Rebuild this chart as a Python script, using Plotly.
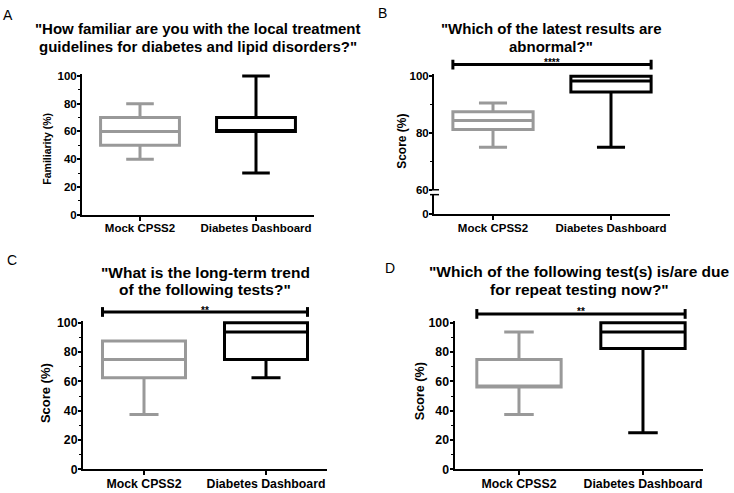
import plotly.graph_objects as go

W, H = 734, 493
def px(x): return x / W
def py(y): return 1 - y / H

categories = ["Mock CPSS2", "Diabetes Dashboard"]
colors = ["#999999", "#000000"]

# Panel A - familiarity (%)
a_lower = [40, 30]
a_q1 = [50, 60]
a_med = [60, 60]
a_q3 = [70, 70]
a_upper = [80, 100]

# Panel B - abnormal results score (%)
b_lower = [75, 75]
b_q1 = [81.25, 94.5]
b_med = [84.4, 98.4]
b_q3 = [87.5, 100]
b_upper = [90.6, 100]

# Panel C - long-term trend score (%)
c_lower = [37.5, 62.5]
c_q1 = [62.5, 75]
c_med = [75, 93.75]
c_q3 = [87.5, 100]
c_upper = [87.5, 100]

# Panel D - repeat testing score (%)
d_lower = [37.5, 25]
d_q1 = [56.25, 82.5]
d_med = [56.25, 93.75]
d_q3 = [75, 100]
d_upper = [93.75, 100]

FONT = "Liberation Sans, Arial, sans-serif"

fig = go.Figure()

def add_boxes(lo, q1, med, q3, up, xa, ya):
    for i, cat in enumerate(categories):
        fig.add_trace(go.Box(
            x=[cat], q1=[q1[i]], median=[med[i]], q3=[q3[i]],
            lowerfence=[lo[i]], upperfence=[up[i]],
            boxpoints=False, fillcolor="white",
            line=dict(color=colors[i], width=3),
            whiskerwidth=0.35, width=0.68,
            showlegend=False, hoverinfo="skip",
            xaxis=xa, yaxis=ya))

add_boxes(a_lower, a_q1, a_med, a_q3, a_upper, "x", "y")
add_boxes(b_lower, b_q1, b_med, b_q3, b_upper, "x3", "y2")
add_boxes(c_lower, c_q1, c_med, c_q3, c_upper, "x4", "y4")
add_boxes(d_lower, d_q1, d_med, d_q3, d_upper, "x5", "y5")
# empty carrier so the lower (0) segment of panel B's broken axis is drawn
fig.add_trace(go.Scatter(x=categories, y=[None, None], mode="lines",
                         showlegend=False, hoverinfo="skip",
                         xaxis="x3", yaxis="y3"))

def xax(dom, rng, anchor, fs):
    return dict(domain=[px(dom[0]), px(dom[1])], range=rng, anchor=anchor,
                type="category", showline=True, linecolor="black", linewidth=2,
                ticks="outside", ticklen=4, tickwidth=1.5, tickcolor="black",
                showgrid=False, zeroline=False, ticklabelstandoff=-2,
                tickfont=dict(family=FONT, size=fs, color="black", weight="bold"))

def yax(dom, rng, anchor, fs, dtick=20, minor=True, tickvals=None):
    d = dict(domain=[py(dom[0]), py(dom[1])], range=rng, anchor=anchor,
             showline=True, linecolor="black", linewidth=2,
             ticks="outside", ticklen=3, tickwidth=1.5, tickcolor="black",
             showgrid=False, zeroline=False, dtick=dtick, tick0=0,
             ticklabelstandoff=-2,
             tickfont=dict(family=FONT, size=fs, color="black", weight="bold"))
    if minor:
        d["minor"] = dict(ticks="outside", dtick=10, ticklen=2, tickwidth=1,
                          tickcolor="black", showgrid=False)
    if tickvals is not None:
        d["tickvals"] = tickvals
    return d

fig.update_layout(
    width=W, height=H, margin=dict(l=0, r=0, t=0, b=0),
    paper_bgcolor="white", plot_bgcolor="white", boxmode="overlay",
    xaxis=xax([82, 314], [-0.5, 1.5], "y", 11.5),
    yaxis=yax([215.5, 71.5], [0, 101.5], "x", 11.5),
    xaxis2=dict(visible=False, domain=[px(434), px(670)], anchor="y2"),
    yaxis2=yax([190, 71.7], [60, 100.8], "x3", 11.5),
    xaxis3=xax([434, 670], [-0.5, 1.5], "y3", 11.5),
    yaxis3=yax([215, 195], [0, 10], "x3", 11.5, minor=False, tickvals=[0]),
    xaxis4=xax([83, 327], [-0.5, 1.5], "y4", 12.3),
    yaxis4=yax([476, 323.75], [0, 101.5], "x4", 12.3),
    xaxis5=xax([454.5, 702.5], [-0.52, 1.48], "y5", 12.3),
    yaxis5=yax([476, 323.75], [0, 101.5], "x5", 12.3),
)

ann = []
def text(x, y, t, size, bold=True, angle=0, ya="middle"):
    ann.append(dict(x=px(x), y=py(y), xref="paper", yref="paper", text=t,
                    showarrow=False, textangle=angle, xanchor="center", yanchor=ya,
                    font=dict(family=FONT, size=size, color="black",
                              weight="bold" if bold else "normal")))

# panel letters
text(8, 11, "A", 14, bold=False)
text(382, 9, "B", 14, bold=False)
text(12, 262, "C", 14, bold=False)
text(390, 270, "D", 14, bold=False)

# titles (one annotation per line for tight line spacing)
text(198, 25, "\"How familiar are you with the local treatment", 15)
text(198, 43, "guidelines for diabetes and lipid disorders?\"", 15)
text(551, 25, "\"Which of the latest results are", 15)
text(551, 43, "abnormal?\"", 15)
text(205, 275, "\"What is the long-term trend", 15.5)
text(205, 292, "of the following tests?\"", 15.5)
text(579, 274, "\"Which of the following test(s) is/are due", 15.5)
text(579, 292, "for repeat testing now?\"", 15.5)

# axis titles
text(47, 148, "Familiarity (%)", 10.5, angle=-90)
text(402, 141, "Score (%)", 12, angle=-90)
text(45, 398, "Score (%)", 13, angle=-90)
text(420, 396, "Score (%)", 12.6, angle=-90)

shapes = []
def line(x0, y0, x1, y1, w=3):
    shapes.append(dict(type="line", xref="paper", yref="paper",
                       x0=px(x0), y0=py(y0), x1=px(x1), y1=py(y1),
                       line=dict(color="black", width=w)))

def sigbar(dom, rng, ybar, stars):
    def tox(v):
        return dom[0] + (v - rng[0]) / (rng[1] - rng[0]) * (dom[1] - dom[0])
    x0, x1 = tox(-0.34), tox(1.34)
    line(x0, ybar, x1, ybar)
    line(x0, ybar - 5, x0, ybar + 5)
    line(x1, ybar - 5, x1, ybar + 5)
    text((x0 + x1) / 2, ybar - 2, stars, 10)

sigbar([434, 670], [-0.5, 1.5], 62, "****")
sigbar([83, 327], [-0.5, 1.5], 315, "**")
sigbar([454.5, 702.5], [-0.52, 1.48], 317, "**")

# axis break marks (panel B)
line(430, 190, 439, 190, 1.5)
line(430, 195, 439, 195, 1.5)

fig.update_layout(annotations=ann, shapes=shapes)
fig.write_html("out.html", config={"displayModeBar": False},
               post_script="document.body.style.margin='0';document.body.style.overflow='hidden';")
